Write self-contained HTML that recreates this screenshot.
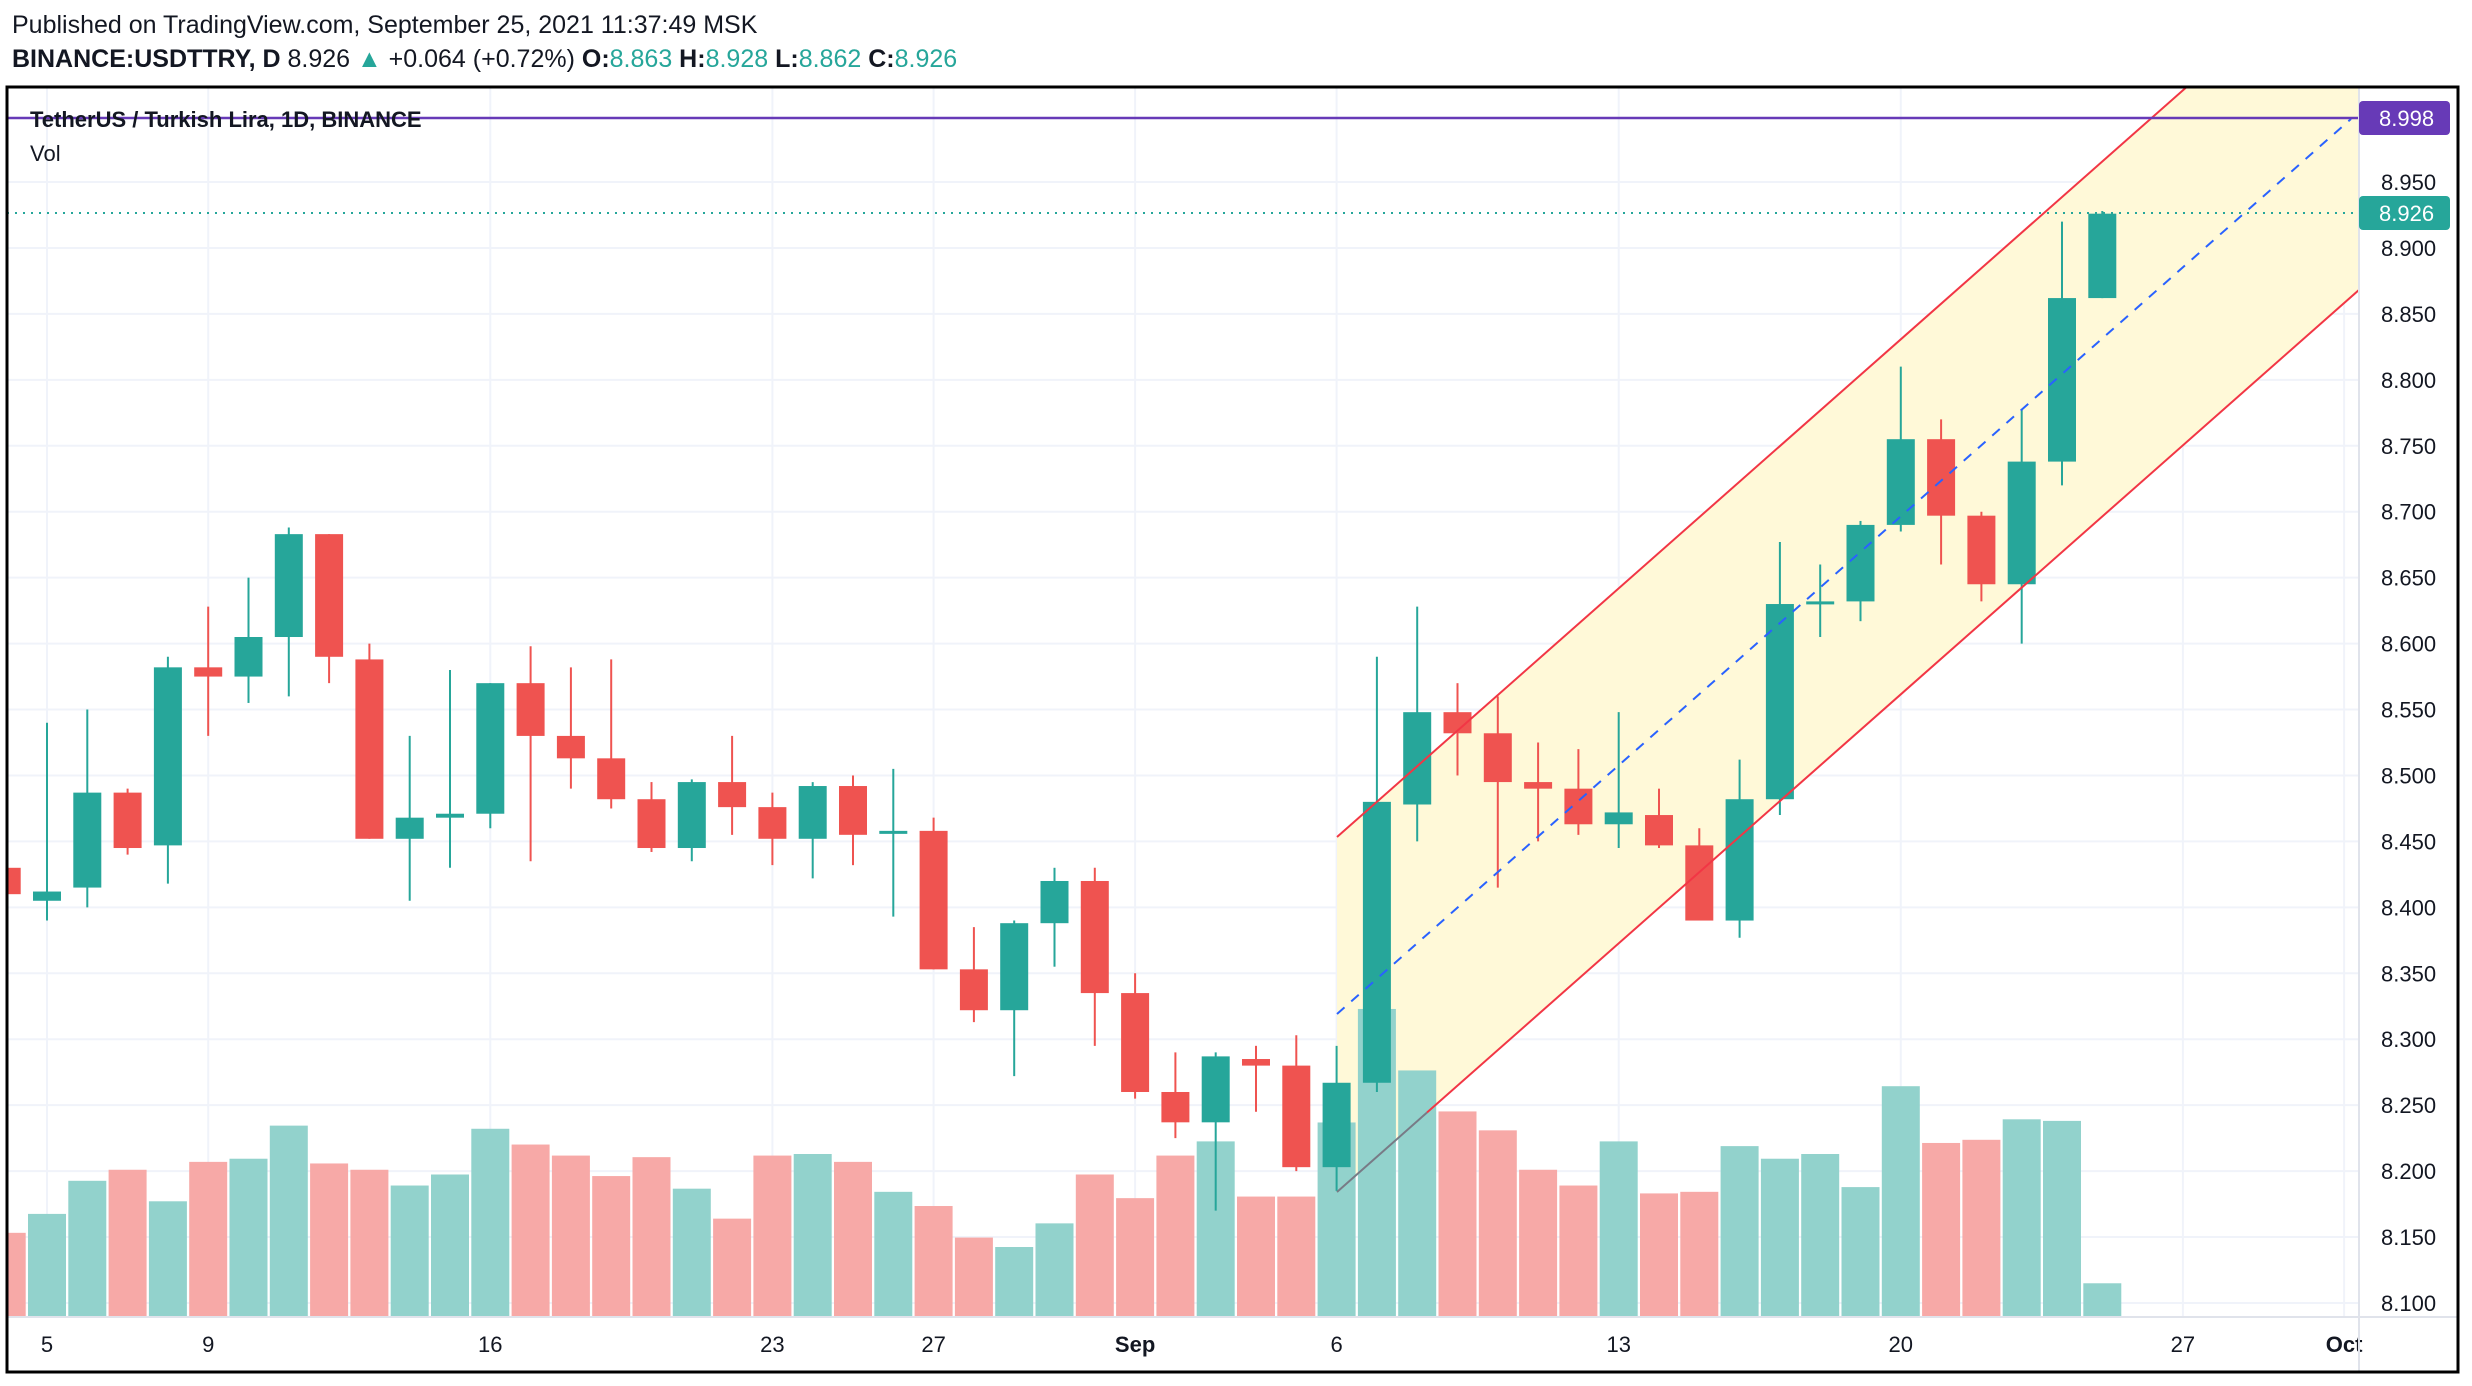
<!DOCTYPE html>
<html><head><meta charset="utf-8"><style>
body{margin:0;background:#fff;width:2472px;height:1386px;overflow:hidden;font-family:"Liberation Sans",sans-serif}
svg{position:absolute;left:0;top:0}
</style></head><body>
<svg id="s" width="2472" height="1386" xmlns="http://www.w3.org/2000/svg"></svg>
<script>
const S=document.getElementById('s');let h='';
const Y=p=>1303-(p-8.1)*1318.8, X=d=>47+40.3*d;
const L=7,R=2359,T=87,B=1317;
h+=`<text x="12" y="33" font-size="25" fill="#131722">Published on TradingView.com, September 25, 2021 11:37:49 MSK</text>`;
h+=`<text x="12" y="67" font-size="25" fill="#131722"><tspan font-weight="bold">BINANCE:USDTTRY, D</tspan> 8.926 <tspan fill="#26a69a">▲</tspan> +0.064 (+0.72%) <tspan font-weight="bold">O:</tspan><tspan fill="#26a69a">8.863</tspan> <tspan font-weight="bold">H:</tspan><tspan fill="#26a69a">8.928</tspan> <tspan font-weight="bold">L:</tspan><tspan fill="#26a69a">8.862</tspan> <tspan font-weight="bold">C:</tspan><tspan fill="#26a69a">8.926</tspan></text>`;
h+=`<defs><clipPath id="c"><rect x="${L}" y="${T}" width="${R-L}" height="${B-T}"/></clipPath></defs>`;
for(let p=8.1;p<8.999;p+=0.05){h+=`<line x1="${L}" x2="${R}" y1="${Y(p)}" y2="${Y(p)}" stroke="#f0f3fa" stroke-width="2"/>`;
 h+=`<text x="2381" y="${Y(p)+8}" font-size="22" fill="#131722">${p.toFixed(3)}</text>`;}
const tl=[[0,'5'],[4,'9'],[11,'16'],[18,'23'],[22,'27'],[27,'Sep'],[32,'6'],[39,'13'],[46,'20'],[53,'27'],[57,'Oct']];
tl.forEach(([d,t])=>{h+=`<line x1="${X(d)}" x2="${X(d)}" y1="${T}" y2="${B}" stroke="#f0f3fa" stroke-width="2"/>`;
 h+=`<text x="${X(d)}" y="1352" font-size="22" fill="#131722" text-anchor="middle" ${t=='Sep'||t=='Oct'?'font-weight="bold"':''}>${t}</text>`;});
h+=`<g clip-path="url(#c)">`;
const sl=-0.8827,x0=1337;
const up=x=>837+sl*(x-x0),lo=x=>1192+sl*(x-x0),mi=x=>1014+sl*(x-x0);
h+=`<polygon points="${x0},${up(x0)} ${R},${up(R)} ${R},${lo(R)} ${x0},${lo(x0)}" fill="#fff9d6" opacity="0.95"/>`;
const c=[[-1,8.43,8.41,8.432,8.40,782],[0,8.405,8.412,8.54,8.39,770],[1,8.415,8.487,8.55,8.40,749],[2,8.487,8.445,8.49,8.44,742],[3,8.447,8.582,8.59,8.418,762],[4,8.582,8.575,8.628,8.53,737],[5,8.575,8.605,8.65,8.555,735],[6,8.605,8.683,8.688,8.56,714],[7,8.683,8.59,8.683,8.57,738],[8,8.588,8.452,8.6,8.452,742],[9,8.452,8.468,8.53,8.405,752],[10,8.468,8.471,8.58,8.43,745],[11,8.471,8.57,8.57,8.46,716],[12,8.57,8.53,8.598,8.435,726],[13,8.53,8.513,8.582,8.49,733],[14,8.513,8.482,8.588,8.475,746],[15,8.482,8.445,8.495,8.442,734],[16,8.445,8.495,8.497,8.435,754],[17,8.495,8.476,8.53,8.455,773],[18,8.476,8.452,8.487,8.432,733],[19,8.452,8.492,8.495,8.422,732],[20,8.492,8.455,8.5,8.432,737],[21,8.457,8.458,8.505,8.393,756],[22,8.458,8.353,8.468,8.353,765],[23,8.353,8.322,8.385,8.313,785],[24,8.322,8.388,8.39,8.272,791],[25,8.388,8.42,8.43,8.355,776],[26,8.42,8.335,8.43,8.295,745],[27,8.335,8.26,8.35,8.255,760],[28,8.26,8.237,8.29,8.225,733],[29,8.237,8.287,8.29,8.17,724],[30,8.285,8.28,8.295,8.245,759],[31,8.28,8.203,8.303,8.2,759],[32,8.203,8.267,8.295,8.185,712],[33,8.267,8.48,8.59,8.26,640],[34,8.478,8.548,8.628,8.45,679],[35,8.548,8.532,8.57,8.5,705],[36,8.532,8.495,8.56,8.415,717],[37,8.495,8.49,8.525,8.45,742],[38,8.49,8.463,8.52,8.455,752],[39,8.463,8.472,8.548,8.445,724],[40,8.47,8.447,8.49,8.445,757],[41,8.447,8.39,8.46,8.39,756],[42,8.39,8.482,8.512,8.377,727],[43,8.482,8.63,8.677,8.47,735],[44,8.63,8.632,8.66,8.605,732],[45,8.632,8.69,8.693,8.617,753],[46,8.69,8.755,8.81,8.685,689],[47,8.755,8.697,8.77,8.66,725],[48,8.697,8.645,8.70,8.632,723],[49,8.645,8.738,8.778,8.6,710],[50,8.738,8.862,8.92,8.72,711],[51,8.862,8.926,8.928,8.862,814]];
c.forEach(([d,o,cl,hi,lw,v])=>{const g=cl>=o;const x=X(d);const top=v*1.5765;
 h+=`<rect x="${x-19}" y="${top}" width="38" height="${B-top}" fill="${g?'#92d2cc':'#f7a9a7'}"/>`;});
c.forEach(([d,o,cl,hi,lw])=>{const g=cl>=o,col=g?'#26a69a':'#ef5350',x=X(d);
 h+=`<line x1="${x}" x2="${x}" y1="${Y(hi)}" y2="${Y(lw)}" stroke="${col}" stroke-width="2"/>`;
 const t=Y(Math.max(o,cl)),bh=Math.max(3,Y(Math.min(o,cl))-t);
 h+=`<rect x="${x-14}" y="${t}" width="28" height="${bh}" fill="${col}"/>`;});
h+=`<line x1="${x0}" y1="${up(x0)}" x2="${R}" y2="${up(R)}" stroke="#f23645" stroke-width="2"/>`;
h+=`<line x1="1427" y1="${lo(1427)}" x2="${R}" y2="${lo(R)}" stroke="#f23645" stroke-width="2"/>`;
h+=`<line x1="${x0}" y1="${lo(x0)}" x2="1427" y2="${lo(1427)}" stroke="#787b86" stroke-width="2"/>`;
h+=`<line x1="${x0}" y1="${mi(x0)}" x2="2351" y2="${mi(2351)}" stroke="#2962ff" stroke-width="2" stroke-dasharray="10,9"/>`;
h+=`</g>`;
h+=`<line x1="${L}" x2="${R}" y1="118" y2="118" stroke="#673ab7" stroke-width="2.5"/>`;
h+=`<line x1="${L}" x2="${R}" y1="213" y2="213" stroke="#26a69a" stroke-width="2" stroke-dasharray="2,6"/>`;
h+=`<text x="30" y="127" font-size="22" font-weight="bold" fill="#131722">TetherUS / Turkish Lira, 1D, BINANCE</text>`;
h+=`<text x="30" y="161" font-size="22" fill="#131722">Vol</text>`;
h+=`<line x1="${R}" x2="${R}" y1="${T}" y2="1372" stroke="#e0e3eb" stroke-width="2"/>`;
h+=`<line x1="${L}" x2="2458" y1="${B}" y2="${B}" stroke="#e0e3eb" stroke-width="2"/>`;
h+=`<rect x="2359" y="101" width="91" height="34" rx="4" fill="#673ab7"/><text x="2379" y="126" font-size="22" fill="#fff">8.998</text>`;
h+=`<rect x="2359" y="196" width="91" height="34" rx="4" fill="#26a69a"/><text x="2379" y="221" font-size="22" fill="#fff">8.926</text>`;
h+=`<rect x="${L}" y="${T}" width="${2458-L}" height="${1372-T}" fill="none" stroke="#000" stroke-width="3"/>`;
S.innerHTML=h;
</script>
</body></html>
